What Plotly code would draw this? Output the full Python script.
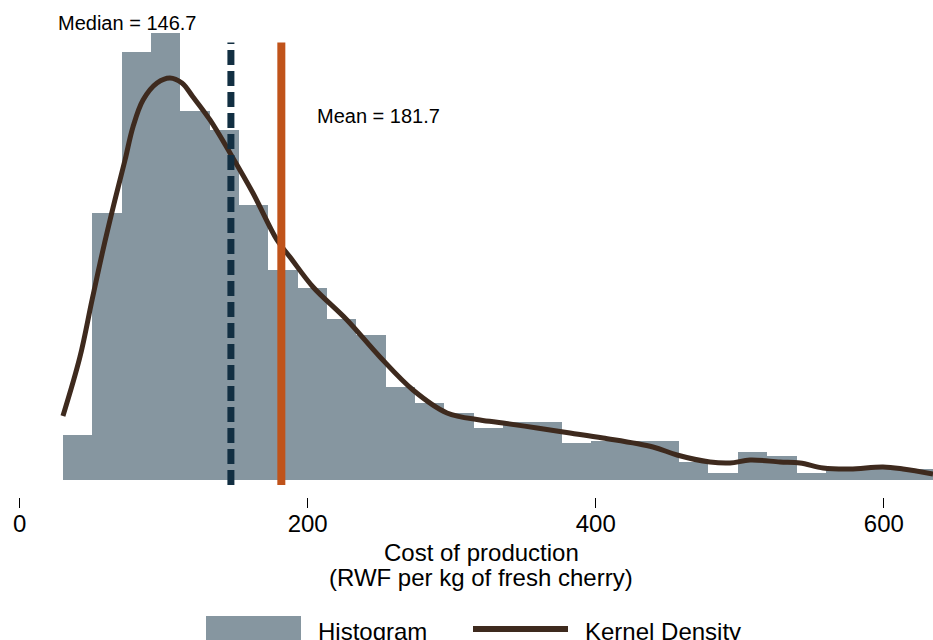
import plotly.graph_objects as go

# ---- data ----
bin_start = 30.1
bin_width = 20.37
hist_density = [6.17, 36.61, 58.69, 61.30, 50.60, 47.99, 37.71, 28.80, 26.33, 22.08,
                19.88, 12.75, 10.56, 9.19, 7.13, 7.95, 7.95, 5.07, 5.35, 5.35,
                5.35, 2.47, 0.96, 3.84, 3.29, 0.96, 1.51, 1.51, 1.51, 1.51]  # x 1e-4

kde_x = [30.1, 41.9, 50.3, 57.9, 66.2, 73.2, 78.7, 85.7, 95.4, 104.4, 112.7, 120.4,
         132.2, 146.1, 162.0, 178.7, 187.7, 203.7, 227.3, 250.2, 273.1, 296.7,
         319.6, 335.6, 359.2, 382.1, 405.0, 439.7, 456.4, 479.3, 493.2, 507.1,
         527.9, 541.8, 557.8, 576.5, 599.4, 613.3, 634.1]
kde_y = [8.78, 16.87, 24.68, 31.54, 38.40, 43.88, 48.41, 52.11, 54.44, 55.13, 54.44,
         52.52, 49.37, 44.84, 39.36, 32.91, 30.58, 26.47, 21.94, 16.87, 12.34, 9.19,
         8.23, 7.82, 7.13, 6.45, 5.76, 4.53, 3.43, 2.47, 2.33, 2.74, 2.47, 2.33,
         1.65, 1.51, 1.78, 1.51, 0.82]  # x 1e-4

median_val = 146.7
mean_val = 181.7
tick_vals = [0, 200, 400, 600]
tick_text = ["0", "200", "400", "600"]

SCALE = 1e-4
bin_centers = [bin_start + bin_width * (i + 0.5) for i in range(len(hist_density))]
hist_y = [v * SCALE for v in hist_density]
kde_yy = [v * SCALE for v in kde_y]

BAR = "#8696a0"
BROWN = "#3e2a1e"
NAVY = "#122f42"
ORANGE = "#c0531a"
FONT = "Liberation Sans, Arial, sans-serif"

W, H = 933, 640
PLOT_BOTTOM = 497  # px


def py(p):  # pixel y -> paper y
    return (PLOT_BOTTOM - p) / PLOT_BOTTOM


def px(p):
    return p / W


fig = go.Figure()
fig.add_trace(go.Bar(x=bin_centers, y=hist_y, width=bin_width, marker_color=BAR,
                     marker_line_width=0, showlegend=False))
fig.add_trace(go.Scatter(x=kde_x, y=kde_yy, mode="lines", line=dict(color=BROWN, width=5,
                         shape="spline", smoothing=1.0), showlegend=False))

line_top = 0.0060
line_bot = -0.00007
fig.add_shape(type="line", x0=median_val, x1=median_val, y0=line_bot, y1=line_top,
              xref="x", yref="y", line=dict(color=NAVY, width=7, dash="15px,6px"))
fig.add_shape(type="line", x0=mean_val, x1=mean_val, y0=line_bot, y1=line_top,
              xref="x", yref="y", line=dict(color=ORANGE, width=8))

fig.add_annotation(x=74.6, y=0.00626, xref="x", yref="y", text="Median = 146.7",
                   showarrow=False, xanchor="center", yanchor="middle",
                   font=dict(family=FONT, size=20, color="black"))
fig.add_annotation(x=249.5, y=0.00499, xref="x", yref="y", text="Mean = 181.7",
                   showarrow=False, xanchor="center", yanchor="middle",
                   font=dict(family=FONT, size=20, color="black"))

# axis title (two lines)
fig.add_annotation(x=px(481), y=py(552), xref="paper", yref="paper", text="Cost of production",
                   showarrow=False, xanchor="center", yanchor="middle",
                   font=dict(family=FONT, size=24, color="black"))
fig.add_annotation(x=px(481), y=py(577), xref="paper", yref="paper",
                   text="(RWF per kg of fresh cherry)",
                   showarrow=False, xanchor="center", yanchor="middle",
                   font=dict(family=FONT, size=24, color="black"))

# legend
fig.add_shape(type="rect", x0=px(206), x1=px(301), y0=py(616), y1=py(660),
              xref="paper", yref="paper", fillcolor=BAR, line=dict(width=0))
fig.add_annotation(x=px(316), y=py(631), xref="paper", yref="paper", text="Histogram",
                   xanchor="left", yanchor="middle", showarrow=False,
                   font=dict(family=FONT, size=24, color="black"))
fig.add_shape(type="line", x0=px(473), x1=px(568), y0=py(629), y1=py(629),
              xref="paper", yref="paper", line=dict(color=BROWN, width=6))
fig.add_annotation(x=px(583), y=py(631), xref="paper", yref="paper", text="Kernel Density",
                   xanchor="left", yanchor="middle", showarrow=False,
                   font=dict(family=FONT, size=24, color="black"))

fig.update_layout(
    width=W, height=H,
    margin=dict(l=0, r=0, t=0, b=H - PLOT_BOTTOM),
    paper_bgcolor="white", plot_bgcolor="white",
    bargap=0,
    showlegend=False,
    xaxis=dict(range=[-13.6, 634.1], tickvals=tick_vals, ticktext=tick_text,
               ticks="outside", ticklen=10, tickwidth=1, tickcolor="black",
               ticklabelstandoff=-5,
               showgrid=False, zeroline=False, showline=False,
               tickfont=dict(family=FONT, size=24, color="black")),
    yaxis=dict(range=[-17 / 72925, 480 / 72925], visible=False, showgrid=False,
               zeroline=False),
)

fig.write_html("out.html")
